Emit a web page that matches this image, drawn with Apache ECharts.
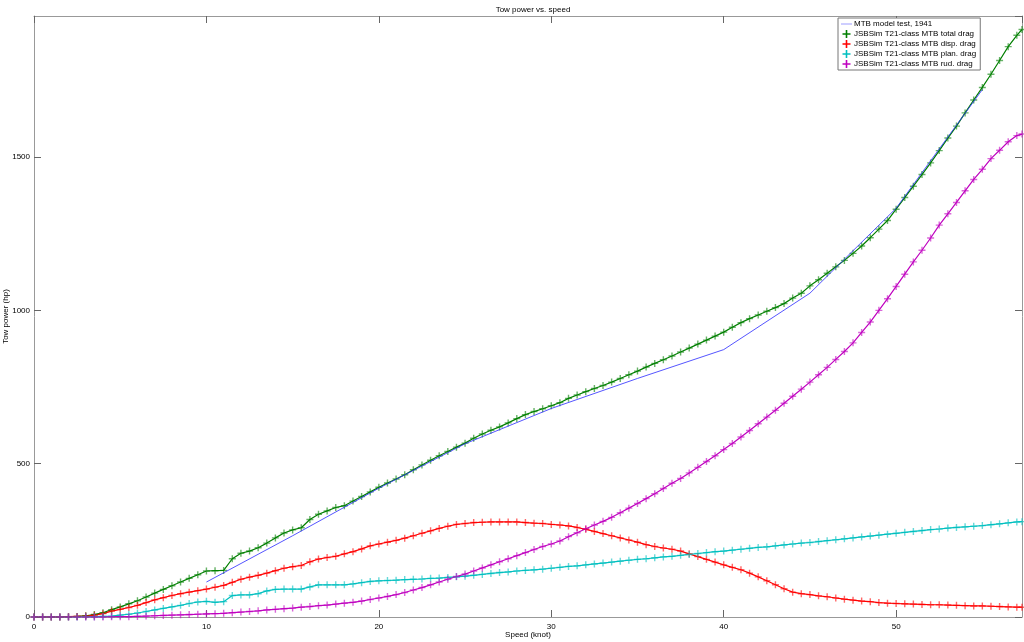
<!DOCTYPE html>
<html>
<head>
<meta charset="utf-8">
<script src="https://cdn.jsdelivr.net/npm/echarts@6/dist/echarts.min.js"></script>
<style>
html,body{margin:0;padding:0;background:#fff;}
#chart{width:1024px;height:642px;}
</style>
</head>
<body>
<div id="chart"></div>
<script>
// Speeds (knot) at which the JSBSim curves were read
const speeds = [
  0,0.5,1,1.5,2,2.5,3,3.5,4,4.5,
  5,5.5,6,6.5,7,7.5,8,8.5,9,9.5,
  10,10.5,11,11.5,12,12.5,13,13.5,14,14.5,
  15,15.5,16,16.5,17,17.5,18,18.5,19,19.5,
  20,20.5,21,21.5,22,22.5,23,23.5,24,24.5,
  25,25.5,26,26.5,27,27.5,28,28.5,29,29.5,
  30,30.5,31,31.5,32,32.5,33,33.5,34,34.5,
  35,35.5,36,36.5,37,37.5,38,38.5,39,39.5,
  40,40.5,41,41.5,42,42.5,43,43.5,44,44.5,
  45,45.5,46,46.5,47,47.5,48,48.5,49,49.5,
  50,50.5,51,51.5,52,52.5,53,53.5,54,54.5,
  55,55.5,56,56.5,57,57.3
];
// JSBSim T21-class MTB total drag (hp)
const totalDrag = [
  0,0,0,0,1,2,4,8,14,24,
  33,43,53,65,78,90,102,114,126,138,
  150,151,152,190,208,215,226,241,258,274,
  284,291,318,335,346,357,363,378,393,408,
  423,437,450,464,480,496,511,526,540,554,
  567,583,597,609,620,633,647,660,670,679,
  689,699,713,724,735,745,755,766,778,790,
  802,815,827,839,851,864,877,890,903,916,
  929,945,960,973,985,997,1009,1022,1040,1056,
  1080,1100,1121,1142,1163,1186,1210,1237,1265,1293,
  1330,1368,1405,1443,1481,1521,1562,1601,1644,1686,
  1727,1770,1815,1860,1897,1916
];
// JSBSim T21-class MTB displacement drag (hp)
const dispDrag = [
  0,0,0,0,1,2,3,6,11,19,
  25,31,38,47,56,63,70,76,81,86,
  91,97,103,113,123,130,136,143,151,159,
  164,168,180,189,194,198,206,213,222,232,
  238,244,250,257,265,273,281,289,296,302,
  305,308,309,310,310,310,310,308,306,305,
  302,300,297,292,286,279,272,265,258,251,
  244,236,230,225,221,215,206,197,188,179,
  170,162,154,143,131,118,105,92,81,76,
  73,69,66,62,58,55,52,50,47,45,
  44,43,42,41,40,40,39,38,37,36,
  36,35,34,33,32,32
];
// JSBSim T21-class MTB planing drag (hp)
const planDrag = [
  0,0,0,0,0,0,1,1,2,3,
  6,9,13,18,23,28,33,38,44,49,
  51,48,50,70,72,72,76,85,90,91,
  91,91,98,105,105,105,105,108,112,116,
  118,119,120,122,123,124,126,127,129,131,
  133,136,139,142,145,147,150,152,154,156,
  159,162,165,167,170,173,176,179,182,185,
  188,190,193,196,198,201,204,207,210,213,
  215,218,221,224,227,229,232,235,238,241,
  243,246,249,252,255,258,261,264,267,270,
  273,276,279,282,285,287,290,292,294,296,
  298,301,304,307,310,311
];
// JSBSim T21-class MTB rudder drag (hp)
const rudDrag = [
  0,0,0,0,0,0,0,0,0,1,
  1,1,2,3,4,5,6,7,8,9,
  10,11,12,14,16,18,20,23,25,27,
  29,32,34,37,39,42,45,48,52,57,
  62,67,73,80,88,96,105,114,123,132,
  140,150,160,170,180,190,200,210,220,230,
  238,248,262,275,288,300,312,325,340,355,
  370,386,402,419,436,452,470,488,507,526,
  546,566,587,608,630,652,674,697,720,743,
  766,790,814,840,866,894,928,962,1000,1038,
  1078,1118,1158,1196,1236,1278,1315,1352,1390,1427,
  1460,1495,1522,1550,1570,1575
];
// MTB model test, 1941
const mtbSpeeds = [10,15,20,25,30,35,40,45,50,55];
const mtbPower  = [114,265,420,565,680,778,872,1056,1333,1720];

const seriesNames = [
  'MTB model test, 1941',
  'JSBSim T21-class MTB total drag',
  'JSBSim T21-class MTB disp. drag',
  'JSBSim T21-class MTB plan. drag',
  'JSBSim T21-class MTB rud. drag'
];
const xTicks = [0,10,20,30,40,50];
const yTicks = [0,500,1000,1500];

const FONT = 'Liberation Sans, Arial, sans-serif';
const PLUS = 'path://M4,0H6V4H10V6H6V10H4V6H0V4H4Z';
const LINEICON = 'path://M0,0H24V1.5H0Z';
const AXIS_LINE = {show:true, onZero:false, lineStyle:{color:'#999', width:1}};
const TICK = {show:true, inside:true, length:7, lineStyle:{color:'#666', width:1}};

function pairs(xs, ys){ return xs.map((x,i)=>[x, ys[i]]); }

function jsbSeries(name, vals, color){
  return {
    name: name, type:'line', data: pairs(speeds, vals),
    symbol: PLUS, symbolSize: 7, showSymbol: true,
    itemStyle: {color: color, opacity: 0.6},
    lineStyle: {color: color, width: 1.2},
    animation: false, z: 3
  };
}

const chart = echarts.init(document.getElementById('chart'), null, {renderer:'canvas'});
chart.setOption({
  backgroundColor:'#fff',
  animation:false,
  title:{
    text:'Tow power vs. speed', left: 528, top: 1, textAlign:'center',
    textStyle:{fontFamily:FONT, fontSize:8, fontWeight:'normal', color:'#000'}
  },
  grid:{left:34, right:2, top:16, bottom:25, containLabel:false, outerBoundsMode:'none'},
  legend:{
    orient:'vertical', left:838, top:18,
    itemWidth:11, itemHeight:8, itemGap:2,
    padding:[2,4,2,3],
    borderColor:'#777', borderWidth:1, backgroundColor:'#fff',
    textStyle:{fontFamily:FONT, fontSize:8, color:'#000', padding:[0,0,0,-3]},
    data:[
      {name:seriesNames[0], icon:LINEICON, itemStyle:{color:'#6f6fff'}},
      {name:seriesNames[1], icon:PLUS, itemStyle:{opacity:1}},
      {name:seriesNames[2], icon:PLUS, itemStyle:{opacity:1}},
      {name:seriesNames[3], icon:PLUS, itemStyle:{opacity:1}},
      {name:seriesNames[4], icon:PLUS, itemStyle:{opacity:1}}
    ]
  },
  xAxis:[{
    type:'value', min:0, max:57.3, interval:10, position:'bottom',
    name:'Speed (knot)', nameLocation:'middle', nameGap:14, nameMoveOverlap:false,
    nameTextStyle:{fontFamily:FONT, fontSize:8, color:'#000'},
    axisLine:AXIS_LINE, axisTick:TICK, splitLine:{show:false},
    axisLabel:{fontFamily:FONT, fontSize:8, color:'#000', margin:6, showMaxLabel:false,
      formatter:v=> xTicks.indexOf(v)>=0 ? String(v) : ''}
  },{
    type:'value', min:0, max:57.3, interval:10, position:'top',
    axisLine:AXIS_LINE, axisTick:TICK, splitLine:{show:false}, axisLabel:{show:false}
  }],
  yAxis:[{
    type:'value', min:0, max:1960, interval:500, position:'left',
    name:'Tow power (hp)', nameLocation:'middle', nameGap:24, nameRotate:90, nameMoveOverlap:false,
    nameTextStyle:{fontFamily:FONT, fontSize:8, color:'#000'},
    axisLine:AXIS_LINE, axisTick:TICK, splitLine:{show:false},
    axisLabel:{fontFamily:FONT, fontSize:8, color:'#000', margin:4, showMaxLabel:false,
      formatter:v=> yTicks.indexOf(v)>=0 ? String(v) : ''}
  },{
    type:'value', min:0, max:1960, interval:500, position:'right',
    axisLine:AXIS_LINE, axisTick:TICK, splitLine:{show:false}, axisLabel:{show:false}
  }],
  series:[
    {
      name:seriesNames[0], type:'line', data:pairs(mtbSpeeds, mtbPower),
      symbol:'none', lineStyle:{color:'#2a2aff', width:0.8}, itemStyle:{color:'#2a2aff'},
      animation:false, z:4
    },
    jsbSeries(seriesNames[1], totalDrag, '#007f00'),
    jsbSeries(seriesNames[2], dispDrag, '#ff0000'),
    jsbSeries(seriesNames[3], planDrag, '#00bfbf'),
    jsbSeries(seriesNames[4], rudDrag, '#bf00bf')
  ]
});
</script>
</body>
</html>
